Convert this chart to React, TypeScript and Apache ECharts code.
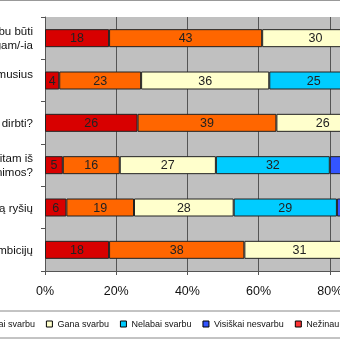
import React, { useEffect, useRef } from "react";
import * as echarts from "echarts";

const categories: string[][] = [
  ["Ar jums svarbu būti", "reikalingam/-ia"],
  ["Ar svarbu išlaikyti artimusius", "draugus"],
  ["Ką norėtumėte dirbti?"],
  ["Ką tikitės gauti sau/kitam iš", "studijų ir tobulinimos?"],
  ["Užmegzti reikšmingą ryšių"],
  ["Siekti savo ambicijų"],
];
const seriesNames = [
  "Ypač svarbu",
  "Labai svarbu",
  "Gana svarbu",
  "Nelabai svarbu",
  "Visiškai nesvarbu",
  "Nežinau, negaliu atsakyti",
];
const ypac = [18, 4, 26, 5, 6, 18];
const labai = [43, 23, 39, 16, 19, 38];
const gana = [30, 36, 26, 27, 28, 31];
const nelabai = [6, 25, 6, 32, 29, 9];
const visiskai = [2, 9, 2, 17, 15, 3];
const nezinau = [1, 3, 1, 3, 3, 1];
const xTicks = [0, 20, 40, 60, 80, 100];

const colors = ["#d80000", "#ff6600", "#ffffcc", "#00ccff", "#3355ff", "#ff3333"];

export default function App() {
  const ref = useRef<HTMLDivElement>(null);
  useEffect(() => {
    if (!ref.current) return;
    const chart = echarts.init(ref.current, null, { renderer: "svg" });
    const values = [ypac, labai, gana, nelabai, visiskai, nezinau];
    const catKeys = categories.map((c) => c.join("\n"));
    chart.setOption({
      animation: false,
      textStyle: { fontFamily: "Liberation Sans, Arial, sans-serif" },
      grid: {
        left: 45,
        top: 17,
        width: 356,
        height: 254,
        show: true,
        backgroundColor: "#c0c0c0",
        borderWidth: 0,
        containLabel: false,
        outerBoundsMode: "none",
      },
      legend: {
        left: -106,
        top: 311,
        width: 900,
        orient: "horizontal",
        itemWidth: 6,
        itemHeight: 6,
        itemGap: 11,
        icon: "rect",
        padding: [7, 6, 8, 6],
        borderColor: "#888888",
        borderWidth: 1,
        textStyle: { fontSize: 9, color: "#111", lineHeight: 12 },
        itemStyle: { borderColor: "#000", borderWidth: 1 },
        data: seriesNames,
      },
      xAxis: {
        type: "value",
        min: xTicks[0],
        max: xTicks[xTicks.length - 1],
        interval: 20,
        axisLine: { show: true, lineStyle: { color: "#555", width: 1 } },
        axisTick: { show: true, length: 4, lineStyle: { color: "#555" } },
        axisLabel: {
          formatter: "{value}%",
          fontSize: 12.5,
          color: "#111",
          margin: 13,
        },
        splitLine: { show: true, lineStyle: { color: "#555", width: 1 } },
      },
      yAxis: {
        type: "category",
        inverse: true,
        data: catKeys,
        axisLine: { show: true, lineStyle: { color: "#555", width: 1 } },
        axisTick: { show: true, length: 4, lineStyle: { color: "#555" } },
        axisLabel: {
          margin: 12,
          color: "#111",
          fontSize: 11.5,
          lineHeight: 14,
          align: "right",
          formatter: (v: string) => {
            const lines = v.split("\n");
            if (lines.length === 2 && lines[1].length < 10) {
              return "{a|" + lines[0] + "}\n{h|" + lines[1] + "}";
            }
            return lines.map((l) => "{a|" + l + "}").join("\n");
          },
          rich: {
            a: { fontSize: 11.5, lineHeight: 14, color: "#111" },
            h: { fontSize: 11.5, lineHeight: 14, color: "#111", padding: [0, 90, 0, 0] },
          },
        },
      },
      series: seriesNames.map((name, i) => ({
        name,
        type: "bar",
        stack: "total",
        barWidth: 18,
        data: values[i],
        itemStyle: { color: colors[i], borderColor: "#222", borderWidth: 1 },
        label: {
          show: true,
          position: "inside",
          color: "#222",
          fontSize: 12.5,
        },
      })),
      graphic: [
        {
          type: "line",
          shape: { x1: 0, y1: 0.5, x2: 340, y2: 0.5 },
          style: { stroke: "#999", lineWidth: 1 },
        },
      ],
    });
    return () => chart.dispose();
  }, []);
  return (
    <div
      ref={ref}
      style={{ position: "fixed", left: 0, top: 0, width: 340, height: 340 }}
    />
  );
}
